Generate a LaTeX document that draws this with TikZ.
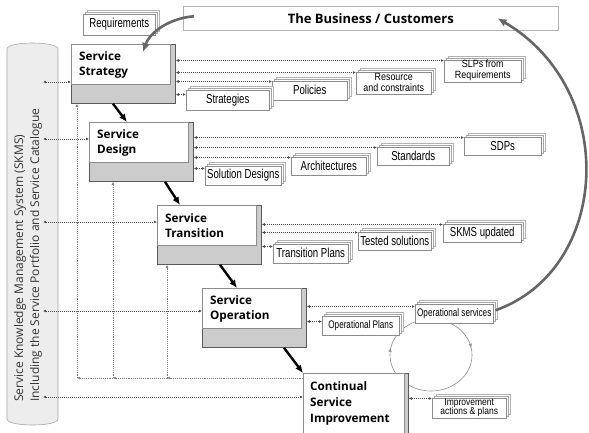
\documentclass[tikz,border=0pt]{standalone}
\usepackage{fontspec}
\setmainfont{Open Sans}
\newfontfamily\docfont[FakeStretch=0.74]{Liberation Sans}
\newfontfamily\docnarrow[FakeStretch=0.85]{Liberation Sans}
\usetikzlibrary{positioning,calc,shadows,arrows.meta,decorations.markings}

\begin{document}
\begin{tikzpicture}[x=1pt,y=-1pt]
    \tikzstyle{stage}=[draw=black!65,fill=black!20,line width=0.8pt,minimum width=104,minimum height=59,anchor=north west,inner sep=0]
    \tikzstyle{stagetext}=[draw=black!45,fill=white,line width=0.5pt,minimum width=99,minimum height=40,anchor=north west,inner sep=0,text width=84,align=left,font=\bfseries\fontsize{11.7}{15}\selectfont]
    \tikzstyle{doc}=[draw=black!45,fill=white,line width=0.5pt,inner sep=0,minimum width=76,minimum height=19,anchor=south west,align=center,
        copy shadow={shadow xshift=4pt,shadow yshift=4pt,draw=black!30,fill=white,line width=0.5pt},
        copy shadow={shadow xshift=2pt,shadow yshift=2pt,draw=black!35,fill=white,line width=0.5pt},
        font=\docfont\fontsize{13}{13}\selectfont]
    \tikzstyle{twoline}=[font=\docnarrow\fontsize{10.5}{11}\selectfont]
    \tikzstyle{opline}=[font=\docfont\fontsize{11}{12}\selectfont]
    \tikzstyle{biz}=[draw=black!30,fill=white,line width=0.6pt,minimum width=375,minimum height=24,anchor=north west,inner sep=0,font=\bfseries\fontsize{13}{15}\selectfont]
    \tikzstyle{cyl}=[draw=black!35,fill=black!7,line width=0.6pt]
    \tikzstyle{flow}=[black,line width=2.4pt,-{Latex[length=8pt,width=7pt]}]
    \tikzstyle{bigarrow}=[black!60,line width=2.6pt,-{Latex[length=9pt,width=8pt]}]
    \tikzstyle{dlink}=[black!70,line width=0.9pt,dash pattern=on 0.9pt off 1.1pt,{Latex[length=3pt,width=2.8pt]}-{Latex[length=3pt,width=2.8pt]}]
    \tikzstyle{fb}=[black!50,line width=0.7pt,dash pattern=on 0.7pt off 1.2pt,-{Latex[length=3pt,width=2.8pt]}]
    \tikzstyle{cycleline}=[black!45,line width=0.6pt,postaction={decorate},
        decoration={markings,
            mark=at position 0.03 with {\arrowreversed{Latex[length=4pt,width=3.5pt]}},
            mark=at position 0.47 with {\arrowreversed{Latex[length=4pt,width=3.5pt]}}}]

    \useasboundingbox (0,0) rectangle (589,432);

    % knowledge base column
    \path[cyl] (7,49) .. controls (7,41) and (58,41) .. (58,49) -- (58,419)
        .. controls (58,427) and (7,427) .. (7,419) -- cycle;
    \node[rotate=90,anchor=west,align=left,inner sep=0,text=black!80,font=\fontsize{12}{16}\selectfont] (skmstext) at (28,402)
        {Service Knowledge Management System (SKMS)\\Including the Service Portfolio and Service Catalogue};
    \coordinate (kb) at (43,40);

    % improvement cycle
    \coordinate (cyc) at (431,355);
    \draw[cycleline] (cyc) ellipse [x radius=41pt,y radius=36pt];

    % customers and outputs
    \node[biz] (business) at (183,6) {The Business / Customers};
    \node[doc,minimum width=72,minimum height=21] (req) at (83,35) {Requirements};

    \node[doc,twoline,minimum width=77,minimum height=22] (slp) at (444,82) {SLPs from\\Requirements};
    \node[doc,twoline,minimum width=75,minimum height=22] (res) at (356,94) {Resource\\and constraints};
    \node[doc,minimum width=75] (pol) at (272,100) {Policies};
    \node[doc,minimum width=83,minimum height=20] (strat) at (186,110) {Strategies};

    \node[doc,minimum width=77,minimum height=18] (sdp) at (464,155) {SDPs};
    \node[doc,minimum width=72,minimum height=18] (std) at (377,165) {Standards};
    \node[doc,minimum width=75,minimum height=18] (arch) at (291,175) {Architectures};
    \node[doc] (sol) at (205,185) {Solution Designs};

    \node[doc,minimum width=78,minimum height=18] (skmsup) at (443,242) {SKMS updated};
    \node[doc,minimum width=73,minimum height=18] (tested) at (358,250) {Tested solutions};
    \node[doc,minimum width=75] (tplans) at (273,263) {Transition Plans};

    \node[doc,opline,minimum width=78] (opserv) at (415,323) {Operational services};
    \node[doc,opline,minimum width=77] (oplans) at (322,335) {Operational Plans};

    \node[doc,minimum width=74,minimum height=20,font=\docnarrow\fontsize{10}{9.5}\selectfont] (impr) at (432,418) {Improvement\\actions \& plans};

    % lifecycle stages
    \node[stage] (strategy) at (71,44) {};
    \node[stagetext] (strategy-t) at ([xshift=0.4pt,yshift=-0.4pt]strategy.north west) {Service\\Strategy};
    \node[stage] (design) at (89,122) {};
    \node[stagetext] (design-t) at ([xshift=0.4pt,yshift=-0.4pt]design.north west) {Service\\Design};
    \node[stage] (transition) at (157,205) {};
    \node[stagetext] (transition-t) at ([xshift=0.4pt,yshift=-0.4pt]transition.north west) {Service\\Transition};
    \node[stage] (operation) at (202,288) {};
    \node[stagetext] (operation-t) at ([xshift=0.4pt,yshift=-0.4pt]operation.north west) {Service\\Operation};
    \node[stage,minimum width=105,minimum height=62] (csi) at (303,373) {};
    \node[stagetext,minimum width=101,minimum height=60,text width=88,font=\bfseries\fontsize{11.7}{16}\selectfont] (csi-t)
        at ([xshift=0.4pt,yshift=-0.4pt]csi.north west) {Continual\\Service\\Improvement};

    % stage to stage
    \draw[flow] ([xshift=42pt]strategy.south west) -- ([xshift=38pt]design.north west);
    \draw[flow] ([xshift=76pt]design.south west) -- ([xshift=23pt]transition.north west);
    \draw[flow] ([xshift=63pt]transition.south west) -- ([xshift=35pt]operation.north west);
    \draw[flow] ([xshift=82pt]operation.south west) -- (csi.north west);

    % business arrows
    \draw[bigarrow] ([xshift=11pt,yshift=2pt]business.west) .. controls (170,18) and (150,32) .. ([xshift=72pt,yshift=-8pt]strategy.north west);
    \draw[bigarrow] ([xshift=2pt,yshift=3pt]opserv.east) .. controls (610,270) and (620,90) .. ([xshift=-61pt]business.east);

    % knowledge base links
    \draw[dlink] ([yshift=-38pt]kb |- strategy.north west) -- ([yshift=-38pt]strategy.north west);
    \draw[dlink] ([yshift=-17pt]kb |- design.north west) -- ([yshift=-17pt]design.north west);
    \draw[dlink] ([yshift=-17pt]kb |- transition.north west) -- ([yshift=-17pt]transition.north west);
    \draw[dlink] ([yshift=-23pt]kb |- operation.north west) -- ([yshift=-23pt]operation.north west);
    \draw[dlink] ([yshift=-24pt]kb |- csi.north west) -- ([yshift=-24pt]csi.north west);

    % outputs
    \draw[dlink] ([yshift=-1pt]strategy.east |- slp.north west) -- ([yshift=-1pt]slp.north west);
    \draw[dlink] ([yshift=-1pt]strategy.east |- res.north west) -- ([yshift=-1pt]res.north west);
    \draw[dlink] ([yshift=-1pt]strategy.east |- pol.north west) -- ([yshift=-1pt]pol.north west);
    \draw[dlink] ([yshift=-5pt]strategy.east |- strat.north west) -- ([yshift=-5pt]strat.north west);

    \draw[dlink] ([yshift=-1pt]design.east |- sdp.north west) -- ([yshift=-1pt]sdp.north west);
    \draw[dlink] ([yshift=-1pt]design.east |- std.north west) -- ([yshift=-1pt]std.north west);
    \draw[dlink] ([yshift=-1pt]design.east |- arch.north west) -- ([yshift=-1pt]arch.north west);
    \draw[dlink] ([yshift=-3pt]design.east |- sol.north west) -- ([yshift=-3pt]sol.north west);

    \draw[dlink] ([yshift=-1pt]transition.east |- skmsup.north west) -- ([yshift=-1pt]skmsup.north west);
    \draw[dlink] ([yshift=-1pt]transition.east |- tested.north west) -- ([yshift=-1pt]tested.north west);
    \draw[dlink] ([yshift=-3pt]transition.east |- tplans.north west) -- ([yshift=-3pt]tplans.north west);

    \draw[dlink] ([yshift=-3pt]operation.east |- opserv.north west) -- ([yshift=-3pt]opserv.north west);
    \draw[dlink] ([yshift=-6pt]operation.east |- oplans.north west) -- ([yshift=-6pt]oplans.north west);

    \draw[dlink] ([yshift=-1pt]csi.east |- impr.north west) -- ([yshift=-1pt]impr.north west);

    % feedback from improvement
    \coordinate (fbrow) at ([yshift=-5pt]csi.north west);
    \draw[fb] (fbrow) -- ([xshift=10pt]transition.south west |- fbrow);
    \draw[fb] ([xshift=10pt]transition.south west |- fbrow) -- ([xshift=10pt]transition.south west);
    \draw[fb] (fbrow) -- ([xshift=24pt]design.south west |- fbrow);
    \draw[fb] ([xshift=24pt]design.south west |- fbrow) -- ([xshift=24pt]design.south west);
    \draw[fb] (fbrow) -- ([xshift=6pt]strategy.south west |- fbrow);
    \draw[fb] ([xshift=6pt]strategy.south west |- fbrow) -- ([xshift=6pt]strategy.south west);
\end{tikzpicture}
\end{document}
